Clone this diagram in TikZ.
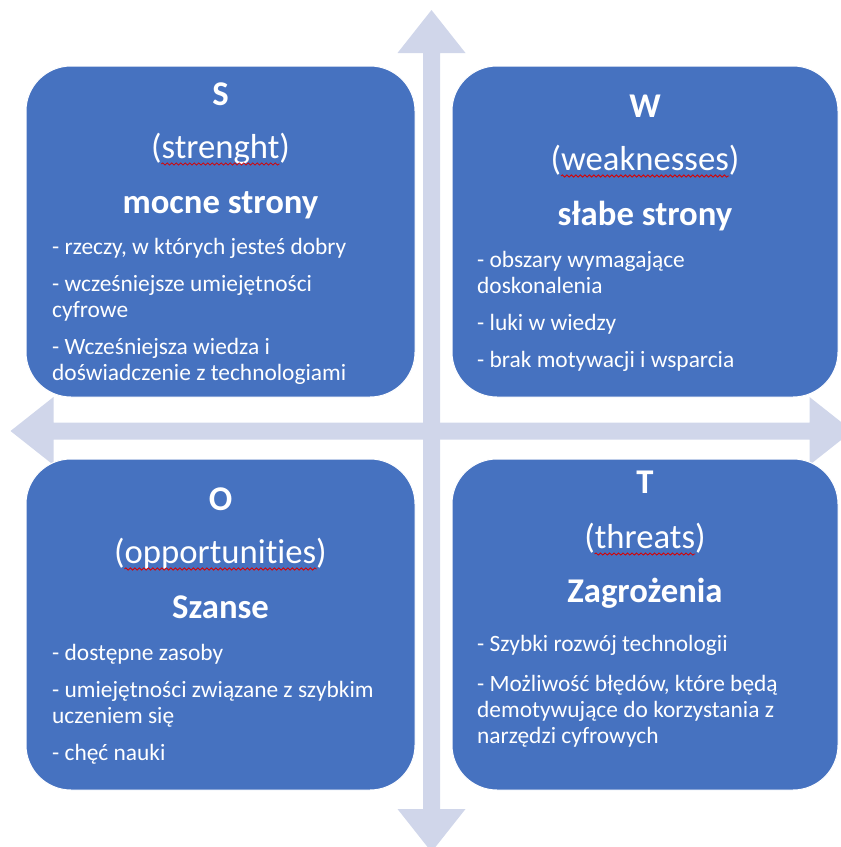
\documentclass[tikz,border=0pt]{standalone}
\usepackage{fontspec}
\setmainfont{Carlito}[Ligatures=NoCommon]
\usetikzlibrary{positioning,decorations.pathmorphing}
\definecolor{boxblue}{HTML}{4672C0}
\definecolor{crossgray}{RGB}{208,214,234}

\begin{document}
\begin{tikzpicture}[x=1pt, y=-1pt,
    quad/.style={draw=white, line width=1pt, fill=boxblue, rounded corners=45pt, minimum width=389pt, minimum height=331pt, inner sep=0pt},
    letter/.style={text=white, anchor=base, inner sep=0pt, font=\fontsize{34.7}{40}\selectfont\bfseries},
    eng/.style={text=white, anchor=base, inner sep=0pt, font=\fontsize{34.7}{40}\selectfont},
    items/.style={text=white, anchor=base west, inner sep=0pt, align=left, font=\fontsize{23.4}{26}\selectfont},
    spell/.style={draw=red!85!black, line width=0.8pt, decorate, decoration={snake, amplitude=1.1pt, segment length=4.5pt}}]
    \useasboundingbox (0,0) rectangle (841,847);
    \clip (0,0) rectangle (841,847);

    % the cross behind the boxes
    \foreach \r in {0,90,180,270}
        \fill[crossgray, shift={(431.5,431)}, rotate=\r] (-8.5,0) -- (-8.5,-378) -- (-34,-378) -- (0,-421) -- (34,-378) -- (8.5,-378) -- (8.5,0) -- cycle;

    \node[quad] (S) at (220.5,231.5) {};
    \node[quad, minimum width=386pt] (W) at (645,231.5) {};
    \node[quad] (O) at (220.5,624.5) {};
    \node[quad, minimum width=386pt] (T) at (645,624.5) {};

    % S (items sit on the baseline of their last line)
    \node[letter] (S_letter) at (220.5,105) {S};
    \node[eng] (S_eng) at (220.5,158) {(strenght)};
    \node[letter] (S_pl) at (220.5,213) {mocne strony};
    \node[items] (S_items) at (52,380) {- rzeczy, w których jesteś dobry\\[11pt]- wcześniejsze umiejętności\\cyfrowe\\[11pt]- Wcześniejsza wiedza i\\doświadczenie z technologiami};

    % W
    \node[letter] (W_letter) at (645,117) {W};
    \node[eng] (W_eng) at (645,170) {(weaknesses)};
    \node[letter] (W_pl) at (645,225) {słabe strony};
    \node[items] (W_items) at (477,367) {- obszary wymagające\\doskonalenia\\[11pt]- luki w wiedzy\\[11pt]- brak motywacji i wsparcia};

    % O
    \node[letter] (O_letter) at (220.5,510) {O};
    \node[eng] (O_eng) at (220.5,563) {(opportunities)};
    \node[letter] (O_pl) at (220.5,618) {Szanse};
    \node[items] (O_items) at (52,760) {- dostępne zasoby\\[11pt]- umiejętności związane z szybkim\\uczeniem się\\[11pt]- chęć nauki};

    % T
    \node[letter] (T_letter) at (645,493) {T};
    \node[eng] (T_eng) at (645,548) {(threats)};
    \node[letter] (T_pl) at (645,602) {Zagrożenia};
    \node[items] (T_items) at (477,743) {- Szybki rozwój technologii\\[14pt]- Możliwość błędów, które będą\\demotywujące do korzystania z\\narzędzi cyfrowych};

    % spelling marks
    \draw[spell] ([shift={(10.5,6)}]S_eng.base west) -- ([shift={(-10.5,6)}]S_eng.base east);
    \draw[spell] ([shift={(10.5,6)}]W_eng.base west) -- ([shift={(-10.5,6)}]W_eng.base east);
    \draw[spell] ([shift={(10.5,6)}]O_eng.base west) -- ([shift={(-10.5,6)}]O_eng.base east);
    \draw[spell] ([shift={(10.5,6)}]T_eng.base west) -- ([shift={(-10.5,6)}]T_eng.base east);
\end{tikzpicture}
\end{document}
